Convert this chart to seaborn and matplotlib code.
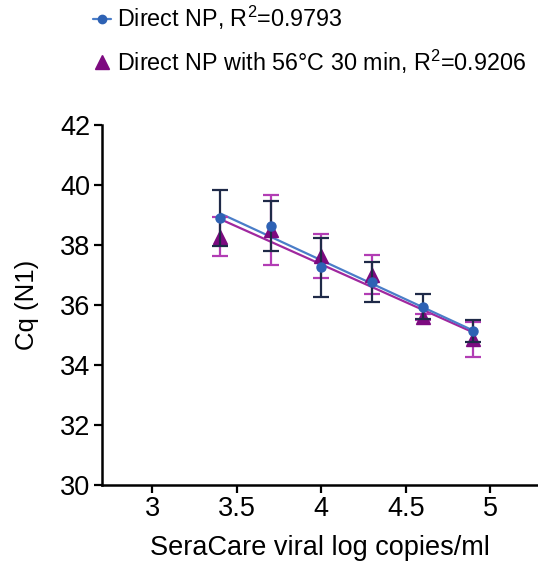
import numpy as np
import pandas as pd
import seaborn as sns
import matplotlib.pyplot as plt
from matplotlib.lines import Line2D

# valeurs (moyenne et demi-barre d'erreur)
log_copies = [3.4, 3.7, 4.0, 4.3, 4.6, 4.9]
cq_direct = [38.89, 38.63, 37.26, 36.76, 35.94, 35.13]
err_direct = [0.93, 0.84, 0.98, 0.67, 0.41, 0.37]
cq_heat = [38.28, 38.50, 37.63, 37.00, 35.59, 34.86]
err_heat = [0.66, 1.16, 0.72, 0.65, 0.10, 0.58]

label_direct = 'Direct NP, R$^2$=0.9793'
label_heat = 'Direct NP with 56°C 30 min, R$^2$=0.9206'

sns.set_style('ticks')
plt.rcParams['font.family'] = ['Liberation Sans', 'DejaVu Sans']
plt.rcParams['mathtext.fontset'] = 'custom'
plt.rcParams['mathtext.rm'] = 'Liberation Sans'
plt.rcParams['mathtext.it'] = 'Liberation Sans'
plt.rcParams['text.color'] = 'black'
plt.rcParams['axes.labelcolor'] = 'black'
plt.rcParams['xtick.color'] = 'black'
plt.rcParams['ytick.color'] = 'black'

blue = '#2e62b4'
blue_line = '#4a7dc8'
navy = '#1f2a48'
purple = '#7d0a80'
purple_line = '#a0289f'
magenta = '#b23db4'

df = pd.DataFrame({'x': log_copies, 'direct': cq_direct, 'heat': cq_heat})

fig = plt.figure(figsize=(5.38, 5.65), dpi=100)
ax = fig.add_axes([0.189, 0.1416, 0.81, 0.6372])

# droites de régression
sns.regplot(data=df, x='x', y='heat', scatter=False, ci=None, ax=ax,
            line_kws={'color': purple_line, 'lw': 1.6})
sns.regplot(data=df, x='x', y='direct', scatter=False, ci=None, ax=ax,
            line_kws={'color': blue_line, 'lw': 1.6})

# barres d'erreur + points
ax.errorbar(log_copies, cq_heat, yerr=err_heat, fmt='none', ecolor=magenta,
            elinewidth=1.6, capsize=6, capthick=1.6, zorder=3)
ax.plot(log_copies, cq_heat, linestyle='none', marker='^', markersize=10,
        color=purple, zorder=4)
ax.errorbar(log_copies, cq_direct, yerr=err_direct, fmt='none', ecolor=navy,
            elinewidth=1.6, capsize=6, capthick=1.6, zorder=5)
ax.plot(log_copies, cq_direct, linestyle='none', marker='o', markersize=6.5,
        color=blue, zorder=6)

ax.set_xlim(2.7, 5.28)
ax.set_ylim(30, 42)
ax.set_xticks([3, 3.5, 4, 4.5, 5])
ax.set_xticklabels(['3', '3.5', '4', '4.5', '5'])
ax.set_yticks([30, 32, 34, 36, 38, 40, 42])
ax.set_xlabel('SeraCare viral log copies/ml', fontsize=19.5, labelpad=9)
ax.set_ylabel('Cq (N1)', fontsize=18.5, labelpad=15)
ax.tick_params(labelsize=19.5, width=1.6, length=6, pad=2)
sns.despine(ax=ax)
for s in ['left', 'bottom']:
    ax.spines[s].set_linewidth(1.8)
    ax.spines[s].set_color('black')

handles = [
    Line2D([], [], color=blue_line, marker='o', markersize=6, markerfacecolor=blue,
           markeredgecolor=blue, lw=1.6),
    Line2D([], [], color=purple, marker='^', markersize=10, linestyle='none'),
]
fig.legend(handles, [label_direct, label_heat], loc='upper left',
           bbox_to_anchor=(0.133, 1.03), frameon=False, fontsize=16.8,
           handlelength=0.8, handletextpad=0.25, labelspacing=0.65)

fig.savefig('out.png', dpi=100)
